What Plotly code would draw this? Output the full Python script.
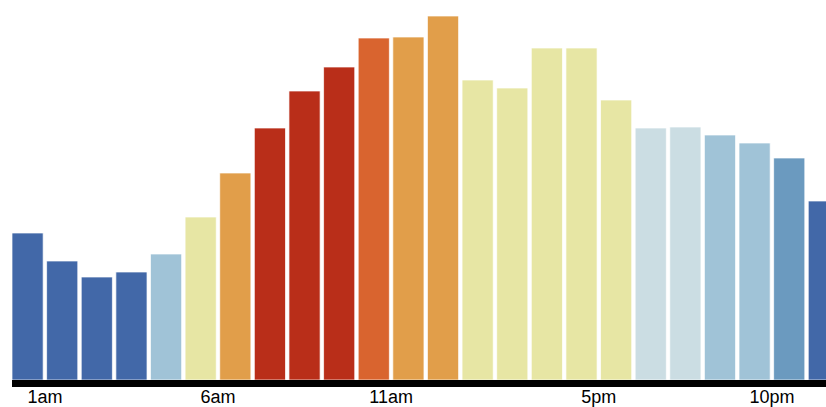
import plotly.graph_objects as go

# Data
hours = list(range(24))  # bar for hour h spans [h, h+1]
values = [147, 119, 103, 108, 126, 163, 207, 252, 289, 313, 342, 343,
          364, 300, 292, 332, 332, 280, 252, 253, 245, 237, 222, 179]
color_class = ["dblue", "dblue", "dblue", "dblue", "lblue", "yellow", "orange", "red",
               "red", "red", "dorange", "orange", "orange", "yellow", "yellow", "yellow",
               "yellow", "yellow", "vlblue", "vlblue", "lblue", "lblue", "mblue", "dblue"]
tick_vals = [1, 6, 11, 17, 22]
tick_text = ["1am", "6am", "11am", "5pm", "10pm"]

palette = {
    "dblue": "#4268a8",
    "mblue": "#6b9abf",
    "lblue": "#a0c3d7",
    "vlblue": "#cbdde3",
    "yellow": "#e7e6a4",
    "orange": "#e19e4a",
    "dorange": "#d9642f",
    "red": "#b92e19",
}
colors = [palette[c] for c in color_class]

fig = go.Figure(go.Bar(
    x=[h + 0.5 for h in hours],
    y=values,
    width=0.9,
    marker=dict(color=colors, line=dict(color="rgba(255,255,255,0.7)", width=1)),
    hoverinfo="skip",
))

fig.update_layout(
    width=826, height=407,
    margin=dict(l=12, r=0, t=0, b=27, autoexpand=False),
    plot_bgcolor="white", paper_bgcolor="white",
    showlegend=False,
    xaxis=dict(
        range=[0.05, 0.05 + 814 / 34.62],
        tickmode="array", tickvals=tick_vals, ticktext=tick_text,
        ticks="", showgrid=False, zeroline=False,
        showline=True, linecolor="black", linewidth=7,
        ticklabelstandoff=-6,
        tickfont=dict(family="Liberation Sans, Arial, sans-serif", size=18, color="black"),
        fixedrange=True,
    ),
    yaxis=dict(
        range=[0, 380], visible=False, showgrid=False, zeroline=False, fixedrange=True,
    ),
)

fig.write_html(
    "out.html",
    config={"displayModeBar": False},
    post_script="document.body.style.margin='0';document.body.style.overflow='hidden';",
)
